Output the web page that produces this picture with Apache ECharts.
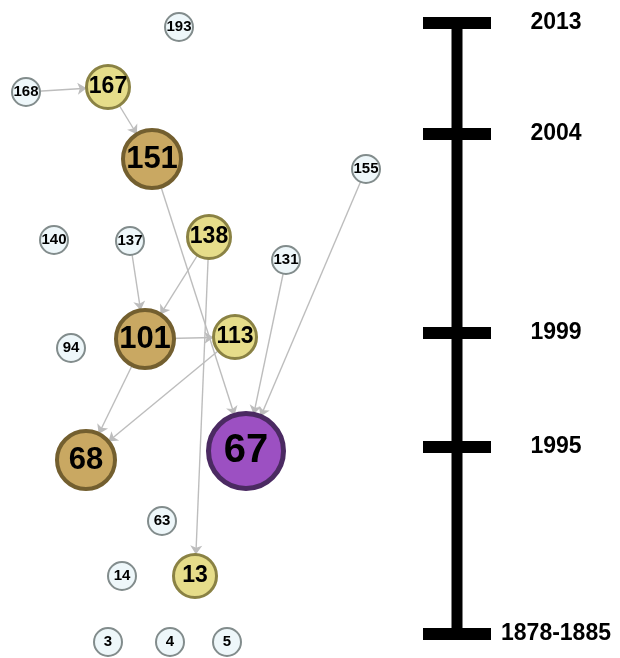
<!DOCTYPE html>
<html>
<head>
<meta charset="utf-8">
<script src="https://cdn.jsdelivr.net/npm/echarts@6/dist/echarts.min.js"></script>
<style>
html,body{margin:0;padding:0;background:#fff;}
#chart{width:620px;height:658px;}
</style>
</head>
<body>
<div id="chart"></div>
<script>
// ---- data ----
var nodeNames = ['193','168','167','151','155','140','137','138','131','101','113','94','68','67','63','14','13','3','4','5'];
var nodeX = [179,26,108,152,366,54,130,209,286,145,235,71,86,246,162,122,195,108,170,227];
var nodeY = [27,92,87,159,169,240,241,237,260,339,337,348,460,451,521,576,576,642,642,642];
var nodeGroup = ['light','light','yellow','tan','light','light','light','yellow','light','tan','yellow','light','tan','purple','light','light','yellow','light','light','light'];

var edgeSource = ['168','167','151','155','131','137','138','138','101','101','113'];
var edgeTarget = ['167','151','67','67','67','101','101','13','113','68','68'];

var timelineLabels = ['2013','2004','1999','1995','1878-1885'];
var timelineY = [23,134,333,447,634];
var timelineX = 457;

// ---- styles ----
var groupStyle = {
  light:  {size:30, font:15, fill:'#eef7fa', border:'#828c8c', bw:2},
  yellow: {size:46, font:23, fill:'#e6dd8a', border:'#8a8244', bw:3},
  tan:    {size:62, font:31, fill:'#c9a862', border:'#735f2f', bw:4},
  purple: {size:80, font:40, fill:'#9c50c2', border:'#4b2a62', bw:5}
};

var nodes = nodeNames.map(function(n,i){
  var s = groupStyle[nodeGroup[i]];
  return {
    name: n,
    value: [nodeX[i], nodeY[i]],
    symbolSize: s.size - s.bw,
    itemStyle: {color: s.fill, borderColor: s.border, borderWidth: s.bw, opacity:1},
    label: {show:true, position:'inside', formatter: n, fontSize: s.font, fontWeight:'bold', color:'#000', fontFamily:'Liberation Sans, Arial, sans-serif'}
  };
});
var links = edgeSource.map(function(s,i){ return {source:s, target:edgeTarget[i]}; });

var chart = echarts.init(document.getElementById('chart'), null, {renderer:'canvas'});
chart.setOption({
  animation:false,
  backgroundColor:'#fff',
  grid:{left:0,right:0,top:0,bottom:0},
  xAxis:{type:'value',min:0,max:620,show:false},
  yAxis:{type:'value',min:0,max:658,inverse:true,show:false},
  series:[
    {
      type:'line',
      data:[[timelineX, timelineY[0]],[timelineX, timelineY[timelineY.length-1]]],
      symbol:'none',
      lineStyle:{color:'#000',width:11,opacity:1},
      z:1
    },
    {
      type:'scatter',
      data: timelineY.map(function(y,i){ return {value:[timelineX,y], label:{formatter: timelineLabels[i]}}; }),
      symbol:'rect',
      symbolSize:[68,12],
      itemStyle:{color:'#000',opacity:1},
      label:{show:true, position:'inside', offset:[99,0], align:'center', color:'#000', opacity:1, fontSize:23, fontWeight:'bold', fontFamily:'Liberation Sans, Arial, sans-serif'},
      z:2
    },
    {
      type:'graph',
      coordinateSystem:'cartesian2d',
      layout:'none',
      data: nodes,
      links: links,
      edgeSymbol:['none','arrow'],
      edgeSymbolSize:[0,9],
      lineStyle:{color:'#bdbdbd',width:1.4,opacity:1},
      z:3
    }
  ]
});
</script>
</body>
</html>
